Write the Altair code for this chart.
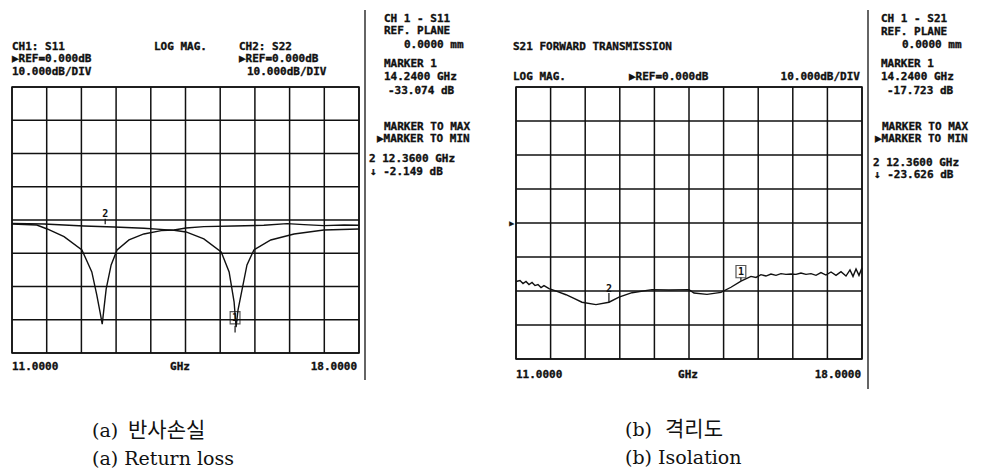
import altair as alt
import pandas as pd

# ---------------- data ----------------
# left panel: S11 / S22 return loss (GHz, dB)
s11_freq = [11.00, 11.50, 11.71, 12.05, 12.41, 12.61, 12.71, 12.78, 12.82, 12.86, 12.90, 13.00, 13.12,
            13.36, 13.66, 14.01, 14.27, 14.51, 14.87, 15.48, 16.08, 16.55, 16.89, 17.29, 17.70, 18.00]
s11_db = [-1.2, -1.5, -2.7, -5.0, -9.0, -15.6, -22.5, -28.0, -31.3, -26.0, -20.7, -13.5, -9.0,
          -6.0, -4.2, -3.2, -3.0, -2.4, -2.0, -1.8, -1.6, -1.1, -1.4, -1.7, -1.5, -1.6]
s22_freq = [11.00, 11.65, 12.45, 13.06, 13.66, 14.07, 14.27, 14.51, 14.87, 15.22, 15.38, 15.48, 15.52,
            15.56, 15.62, 15.74, 15.88, 16.22, 16.69, 17.29, 18.00]
s22_db = [-1.0, -1.2, -1.8, -2.1, -2.5, -2.9, -3.1, -3.6, -5.7, -9.6, -15.6, -24.6, -32.2,
          -27.0, -22.5, -13.5, -9.0, -6.0, -4.2, -3.0, -2.7]

# right panel: S21 isolation (GHz, dB)
s21_freq = [11.000, 11.081, 11.142, 11.202, 11.263, 11.324, 11.384, 11.445, 11.506, 11.566, 11.668,
            11.829, 12.012, 12.173, 12.335, 12.618, 12.881, 13.084, 13.347, 13.751, 14.095, 14.500,
            14.601, 14.864, 15.147, 15.349, 15.552, 15.754, 15.855, 15.956, 16.057, 16.158, 16.260,
            16.361, 16.462, 16.563, 16.664, 16.765, 16.867, 16.968, 17.069, 17.170, 17.271, 17.373,
            17.474, 17.575, 17.676, 17.757, 17.818, 17.879, 17.939, 18.000]
s21_db = [-17.2, -16.9, -17.8, -17.2, -18.1, -17.5, -18.4, -18.1, -19.0, -18.4, -19.3,
          -20.1, -21.1, -22.2, -23.3, -24.0, -23.3, -21.8, -20.5, -19.6, -19.7, -19.6,
          -20.6, -21.0, -20.4, -18.9, -17.1, -15.7, -16.0, -15.2, -15.6, -15.0, -15.4,
          -14.9, -15.1, -15.0, -15.1, -14.7, -15.1, -14.9, -15.4, -14.6, -15.3, -14.4,
          -15.4, -14.3, -15.6, -13.8, -15.7, -13.5, -15.4, -13.2]

# markers (label, GHz, dB of label, tick top, tick bottom, boxed)
left_mk_label = ["1", "2"]
left_mk_freq = [15.50, 12.88]
left_mk_db = [-29.4, 1.8]
left_mk_tick_top = [-31.8, 0.4]
left_mk_tick_bot = [-33.8, -1.3]
left_mk_boxed = [True, False]

right_mk_label = ["1", "2"]
right_mk_freq = [15.55, 12.88]
right_mk_db = [-14.3, -19.3]
right_mk_tick_top = [-16.0, -20.6]
right_mk_tick_bot = [-17.0, -23.3]
right_mk_boxed = [True, False]

grid_x = [11.0, 11.7, 12.4, 13.1, 13.8, 14.5, 15.2, 15.9, 16.6, 17.3, 18.0]
grid_y = [-40, -30, -20, -10, 0, 10, 20, 30, 40]

# ---------------- styling helpers ----------------
INK = "#111111"
MONO = "DejaVu Sans Mono"
SERIF = "DejaVu Serif"
KO = "Noto Sans CJK KR"
FS = 11

xs = alt.Scale(domain=[11, 18], nice=False, zero=False)
ys = alt.Scale(domain=[-40, 40], nice=False, zero=False)


def txt(s, x, y, align="left", font=MONO, size=FS, weight="bold", stroke=True):
    kw = dict(align=align, baseline="middle", font=font, fontSize=size, fontWeight=weight, color=INK)
    if stroke:
        kw.update(stroke=INK, strokeWidth=0.35)
    return alt.Chart(pd.DataFrame({"t": [s]})).mark_text(**kw).encode(
        x=alt.value(x), y=alt.value(y), text="t:N")


def vrule(x, y1, y2):
    return alt.Chart(pd.DataFrame({"a": [0]})).mark_rule(color=INK, strokeWidth=1.3).encode(
        x=alt.value(x), y=alt.value(y1), y2=alt.value(y2))


def grid():
    gx = alt.Chart(pd.DataFrame({"g": grid_x})).mark_rule(color=INK, strokeWidth=1.5).encode(
        x=alt.X("g:Q", scale=xs, axis=None))
    gy = alt.Chart(pd.DataFrame({"g": grid_y})).mark_rule(color=INK, strokeWidth=1.5).encode(
        y=alt.Y("g:Q", scale=ys, axis=None))
    return [gx, gy]


def traces(freqs, dbs, names):
    rows_f, rows_d, rows_n, rows_i = [], [], [], []
    for fl, dl, n in zip(freqs, dbs, names):
        rows_f += fl
        rows_d += dl
        rows_n += [n] * len(fl)
        rows_i += list(range(len(fl)))
    df = pd.DataFrame({"f": rows_f, "db": rows_d, "tr": rows_n, "i": rows_i})
    return alt.Chart(df).mark_line(color=INK, strokeWidth=1.4).encode(
        x=alt.X("f:Q", scale=xs, axis=None),
        y=alt.Y("db:Q", scale=ys, axis=None),
        detail="tr:N",
        order="i:Q",
    )


def markers(labels, freqs, dbs, ttop, tbot, boxed):
    df = pd.DataFrame({"lab": labels, "f": freqs, "db": dbs, "t1": ttop, "t2": tbot, "box": boxed})
    ticks = alt.Chart(df).mark_rule(color=INK, strokeWidth=1.2).encode(
        x=alt.X("f:Q", scale=xs), y=alt.Y("t1:Q", scale=ys), y2="t2:Q")
    boxes = alt.Chart(df).transform_filter("datum.box").mark_point(
        shape="M-0.8,-1L0.8,-1L0.8,1L-0.8,1Z", size=150, filled=False, color=INK, strokeWidth=1.2
    ).encode(x=alt.X("f:Q", scale=xs), y=alt.Y("db:Q", scale=ys))
    labs = alt.Chart(df).mark_text(font=MONO, fontSize=10, fontWeight="bold", color=INK,
                                   baseline="middle", align="center").encode(
        x=alt.X("f:Q", scale=xs), y=alt.Y("db:Q", scale=ys), text="lab:N")
    return [ticks, boxes, labs]


# ---------------- left panel: return loss ----------------
left_layers = grid() + [traces([s11_freq, s22_freq], [s11_db, s22_db], ["S11", "S22"])]
left_layers += markers(left_mk_label, left_mk_freq, left_mk_db, left_mk_tick_top,
                       left_mk_tick_bot, left_mk_boxed)
left_layers += [
    txt("CH1: S11", 0, -40.5), txt("LOG MAG.", 142, -40.5), txt("CH2: S22", 227, -40.5),
    txt("\u25b6REF=0.000dB", 0, -28), txt("\u25b6REF=0.000dB", 227, -28),
    txt("10.000dB/DIV", 0, -15), txt("10.000dB/DIV", 235, -15),
    vrule(353, -77, 293),
    txt("CH 1 - S11", 372, -68.5), txt("REF. PLANE", 372, -56), txt("0.0000 mm", 392, -42),
    txt("MARKER 1", 372, -23), txt("14.2400 GHz", 372, -10), txt("-33.074 dB", 376, 4),
    txt("MARKER TO MAX", 372, 39.5), txt("\u25b6MARKER TO MIN", 365, 52),
    txt("2 12.3600 GHz", 357, 72), txt("\u2193  -2.149 dB", 358, 84.5),
    txt("11.0000", 0, 280), txt("GHz", 168, 280, align="center"), txt("18.0000", 345, 280, align="right"),
    txt("(a)", 80, 344, font=SERIF, size=19, weight="normal", stroke=False),
    txt("\ubc18\uc0ac\uc190\uc2e4", 116, 344, font=KO, size=21, weight="normal", stroke=False),
    txt("(a) Return loss", 80, 372, font=SERIF, size=19, weight="normal", stroke=False),
]
left = alt.layer(*left_layers).properties(width=347, height=266)

# ---------------- right panel: isolation ----------------
right_layers = grid() + [traces([s21_freq], [s21_db], ["S21"])]
right_layers += markers(right_mk_label, right_mk_freq, right_mk_db, right_mk_tick_top,
                        right_mk_tick_bot, right_mk_boxed)
right_layers += [
    txt("S21 FORWARD TRANSMISSION", -3, -40),
    txt("LOG MAG.", -3, -10), txt("\u25b6REF=0.000dB", 113, -10),
    txt("10.000dB/DIV", 344, -10, align="right"),
    txt("\u25b6", -2, 137, align="right", size=8),
    vrule(352, -77, 302),
    txt("CH 1 - S21", 365, -68.5), txt("REF. PLANE", 365, -55.5), txt("0.0000 mm", 386, -42),
    txt("MARKER 1", 365, -23), txt("14.2400 GHz", 365, -10), txt("-17.723 dB", 371, 4),
    txt("MARKER TO MAX", 366, 39.5), txt("\u25b6MARKER TO MIN", 359, 52),
    txt("2 12.3600 GHz", 357, 75.5), txt("\u2193 -23.626 dB", 358, 88),
    txt("11.0000", 0, 288), txt("GHz", 172, 288, align="center"), txt("18.0000", 345, 288, align="right"),
    txt("(b)", 109, 343, font=SERIF, size=19, weight="normal", stroke=False),
    txt("\uaca9\ub9ac\ub3c4", 149, 343, font=KO, size=21, weight="normal", stroke=False),
    txt("(b) Isolation", 109, 371, font=SERIF, size=19, weight="normal", stroke=False),
]
right = alt.layer(*right_layers).properties(width=346, height=272)

chart = alt.hconcat(left, right, spacing=157, bounds="flush").properties(
    padding=0
).configure_view(stroke=INK, strokeWidth=1.5)

chart.save("out.html", embed_options={"renderer": "svg", "actions": False})
